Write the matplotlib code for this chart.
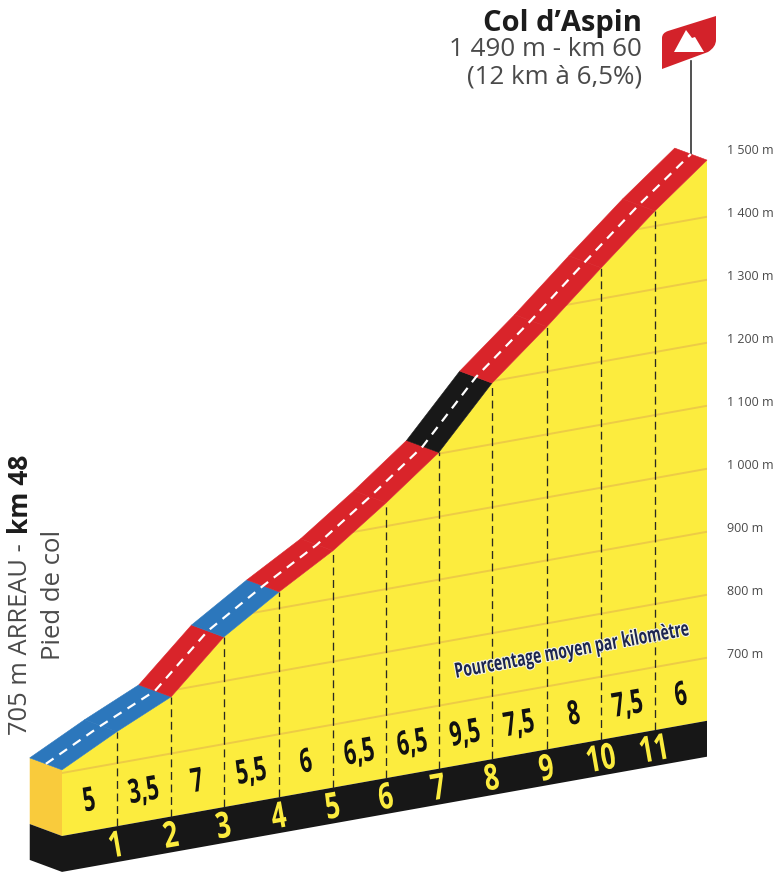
import matplotlib
matplotlib.use("Agg")
import matplotlib.pyplot as plt
import matplotlib.patheffects as pe
from matplotlib.patches import Polygon, PathPatch
from matplotlib.path import Path
from matplotlib.transforms import Affine2D

# profile, km marks as they sit on the drawing
km = [0, 1.02, 2.03, 3.01, 4.04, 5.04, 6.03, 7.01, 8.0, 9.02, 10.03, 11.03, 12]
km_labels = ["1", "2", "3", "4", "5", "6", "7", "8", "9", "10", "11"]
altitude = [705, 750, 790, 870, 926, 976, 1037, 1102, 1197, 1271, 1349, 1424, 1490]
percent = ["5", "3,5", "7", "5,5", "6", "6,5", "6,5", "9,5", "7,5", "8", "7,5", "6"]
segment_class = ["easy", "easy", "hard", "easy", "hard", "hard", "hard", "steep", "hard", "hard", "hard", "hard"]
grid_alt = [700, 800, 900, 1000, 1100, 1200, 1300, 1400]
tick_alt = [700, 800, 900, 1000, 1100, 1200, 1300, 1400, 1500]
tick_labels = ["700 m", "800 m", "900 m", "1 000 m", "1 100 m", "1 200 m", "1 300 m", "1 400 m", "1 500 m"]

colors = {"easy": "#2c77bc", "hard": "#d9242a", "steep": "#181818"}
YELLOW = "#fcec3e"
SIDE = "#f9cb3c"
BLACK = "#171717"
GRID = "#edcb46"
GREY = "#4a4a4a"

SHEAR = 15.24  # metres of screen rise per km, gives the oblique look
BASE = 600
BASE_LOW = 543
DX = -0.6  # depth of the road
DY = 19

plt.rcParams["font.family"] = ["Open Sans", "DejaVu Sans"]


class Squeeze(pe.AbstractPathEffect):
    # no condensed font here, so narrow the glyphs around the middle of the text
    def __init__(self, factor, stroke=None, width=0):
        super().__init__()
        self.factor = factor
        self.stroke = stroke
        self.width = width

    def draw_path(self, renderer, gc, tpath, affine, rgbFace=None):
        box = tpath.get_extents()
        mid = (box.x0 + box.x1) / 2
        tr = Affine2D().translate(-mid, 0).scale(self.factor, 1).translate(mid, 0) + affine
        if self.stroke is not None:
            gc0 = renderer.new_gc()
            gc0.copy_properties(gc)
            gc0.set_foreground(self.stroke)
            gc0.set_linewidth(self.width)
            renderer.draw_path(gc0, tpath, tr, None)
            gc0.restore()
        renderer.draw_path(gc, tpath, tr, rgbFace)


def sh(k, a):
    return k, a + SHEAR * k


fig = plt.figure(figsize=(7.8, 8.75), dpi=100)
ax = fig.add_axes([0, 0, 1, 1])
ax.set_xlim(-62 / 53.75, (780 - 62) / 53.75)
ax.set_ylim(700 + (773 - 875) / 0.63, 700 + 773 / 0.63)
ax.axis("off")

# pixel coordinates from the top left, for the decoration only
px = Affine2D().scale(1, -1).translate(0, 875)

# yellow body
front = [sh(k, a) for k, a in zip(km, altitude)]
bottom = [sh(k, BASE) for k in km[::-1]]
body = Polygon(front + bottom, closed=True, fc=YELLOW, ec="none", zorder=1)
ax.add_patch(body)

for a in grid_alt:
    x0, y0 = sh(km[0], a)
    x1, y1 = sh(km[-1], a)
    line, = ax.plot([x0, x1], [y0, y1], color=GRID, lw=1.4, zorder=2)
    line.set_clip_path(body)

# left side and black band
k0, a0 = sh(km[0], altitude[0])
kb, ab = sh(km[0], BASE)
kl, al = sh(km[0], BASE_LOW)
ax.add_patch(Polygon([(k0, a0), (kb, ab), (kb + DX, ab + DY), (k0 + DX, a0 + DY)], fc=SIDE, ec="none", zorder=2))
ax.add_patch(Polygon([(kb, ab), (kl, al), (kl + DX, al + DY), (kb + DX, ab + DY)], fc=BLACK, ec="none", zorder=2))
band = [sh(km[0], BASE), sh(km[-1], BASE), sh(km[-1], BASE_LOW), sh(km[0], BASE_LOW)]
ax.add_patch(Polygon(band, fc=BLACK, ec="none", zorder=2))

# km separators
for k, a in zip(km[1:-1], altitude[1:-1]):
    x0, y0 = sh(k, BASE)
    x1, y1 = sh(k, a)
    ax.plot([x0, x1], [y0, y1], color="#2a2a20", lw=0.95, dashes=(6, 3.5), zorder=3)

# road
for i, c in enumerate(segment_class):
    p0 = sh(km[i], altitude[i])
    p1 = sh(km[i + 1], altitude[i + 1])
    ax.add_patch(Polygon([p0, p1, (p1[0] + DX, p1[1] + DY), (p0[0] + DX, p0[1] + DY)],
                         fc=colors[c], ec=colors[c], lw=0.4, zorder=4))
cx = [p[0] + DX / 2 for p in front]
cy = [p[1] + DY / 2 for p in front]
ax.plot(cx, cy, color="white", lw=1.6, dashes=(4.2, 3.2), zorder=5)

# labels along the profile
for i, p in enumerate(percent):
    x, y = sh((km[i] + km[i + 1]) / 2, 646)
    ax.text(x, y, p, ha="center", va="center", rotation=10, rotation_mode="anchor",
            fontweight="bold", fontsize=24, color="#111111", zorder=6,
            path_effects=[Squeeze(0.64)])
for k, label in zip(km[1:-1], km_labels):
    x, y = sh(k, 566)
    ax.text(x, y, label, ha="center", va="center", rotation=10, rotation_mode="anchor",
            fontweight="bold", fontsize=26, color=YELLOW, zorder=6,
            path_effects=[Squeeze(0.72)])

# altitude scale
for a, label in zip(tick_alt, tick_labels):
    x, y = sh(12.37, a)
    ax.text(x, y, label, ha="left", va="center", fontsize=9, color=GREY)

# caption
ax.text(572, 651, "Pourcentage moyen par kilomètre", transform=px, ha="center", va="center",
        rotation=10.4, rotation_mode="anchor", fontweight="bold", fontsize=15,
        color="#1d2650", zorder=7, path_effects=[Squeeze(0.67, "#f4f4e4", 1.6)])

# summit text
ax.text(642, 24, "Col d’Aspin", transform=px, ha="right", va="center", fontsize=21, fontweight="bold", color="#1c1c1c")
ax.text(642, 49, "1 490 m - km 60", transform=px, ha="right", va="center", fontsize=18.7, color=GREY)
ax.text(642, 77, "(12 km à 6,5%)", transform=px, ha="right", va="center", fontsize=18.7, color=GREY)

# start text
ax.text(21, 639, "705 m ARREAU -", transform=px, ha="center", va="center", rotation=90, fontsize=18.4, color=GREY)
ax.text(21, 494, "km 48", transform=px, ha="center", va="center", rotation=90, fontsize=19,
        fontweight="bold", color="#1c1c1c")
ax.text(54, 595, "Pied de col", transform=px, ha="center", va="center", rotation=90, fontsize=18.5, color=GREY)

# summit pole and flag
xt, yt = sh(km[-1], altitude[-1])
ax.plot([xt + DX / 2] * 2, [yt + DY / 2, yt + DY / 2 + 93 / 0.63], color="#333333", lw=1.2, zorder=3)
verts = [(668, 31), (716, 16), (716, 40), (716, 47), (708, 52), (662, 69), (662, 38), (662, 33), (668, 31)]
codes = [Path.MOVETO, Path.LINETO, Path.LINETO, Path.CURVE3, Path.CURVE3, Path.LINETO, Path.LINETO, Path.CURVE3, Path.CURVE3]
ax.add_patch(PathPatch(Path(verts, codes), transform=px, fc="#d3222a", ec="none", zorder=8))
ax.add_patch(Polygon([(674, 52), (686, 30), (692, 38), (695, 37), (704, 52)], transform=px, fc="white", ec="none", zorder=9))

fig.savefig("out.png", dpi=100)
